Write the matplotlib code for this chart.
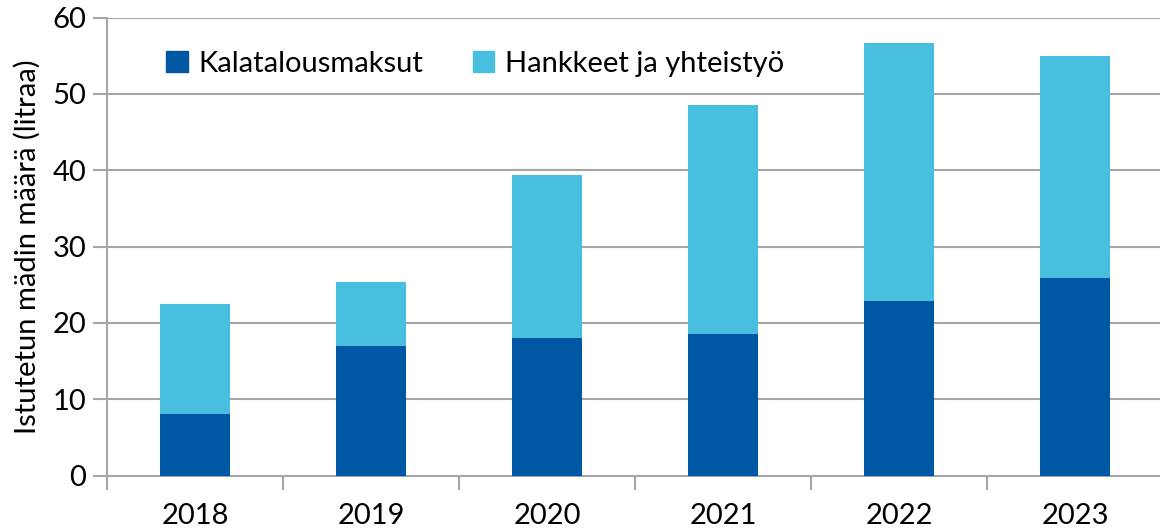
import numpy as np
import matplotlib
matplotlib.use("Agg")
import matplotlib.pyplot as plt
from matplotlib.patches import Patch

years = ['2018', '2019', '2020', '2021', '2022', '2023']
kalatalousmaksut = [8.0, 17.0, 18.0, 18.5, 22.9, 25.9]
hankkeet = [14.5, 8.4, 21.4, 30.1, 33.8, 29.0]

dark = '#0057A4'
light = '#48BFDF'
grid_c = '#A6A6A6'
fs = 21

plt.rcParams['font.family'] = ['Lato', 'DejaVu Sans']

fig = plt.figure(figsize=(11.6, 5.31), dpi=100)
ax = fig.add_axes([107 / 1160, 1 - 475.5 / 531, (1163 - 107) / 1160, (475.5 - 17.5) / 531])

x = np.arange(len(years))
ax.bar(x, kalatalousmaksut, width=0.4, color=dark, zorder=3)
ax.bar(x, hankkeet, width=0.4, bottom=kalatalousmaksut, color=light, zorder=3)

ax.set_xlim(-0.5, 5.5)
ax.set_ylim(0, 60)
ax.set_yticks(range(0, 61, 10))
ax.yaxis.grid(True, color=grid_c, linewidth=1.5, zorder=0)

# category boundaries carry the tick marks, labels sit at bar centres
ax.set_xticks(np.arange(-0.5, 5.5, 1.0))
ax.set_xticklabels([])
ax.set_xticks(x, minor=True)
ax.set_xticklabels(years, minor=True)
ax.tick_params(axis='x', which='major', length=10, width=1.5, color=grid_c)
ax.tick_params(axis='x', which='minor', length=0, pad=20, labelsize=fs)
ax.tick_params(axis='y', length=10, width=1.5, color=grid_c, labelsize=fs, pad=5)

for s in ['top', 'right']:
    ax.spines[s].set_visible(False)
for s in ['left', 'bottom']:
    ax.spines[s].set_color(grid_c)
    ax.spines[s].set_linewidth(1.5)

ax.set_ylabel('Istutetun mädin määrä (litraa)', fontsize=fs, labelpad=8)

handles = [Patch(color=dark, label='Kalatalousmaksut'),
           Patch(color=light, label='Hankkeet ja yhteistyö')]
ax.legend(handles=handles, loc='upper left', bbox_to_anchor=(0.031, 0.985), ncol=2,
          frameon=False, fontsize=fs, handlelength=0.75, handleheight=0.75,
          handletextpad=0.35, columnspacing=1.7)

fig.savefig('out.png', dpi=100)
